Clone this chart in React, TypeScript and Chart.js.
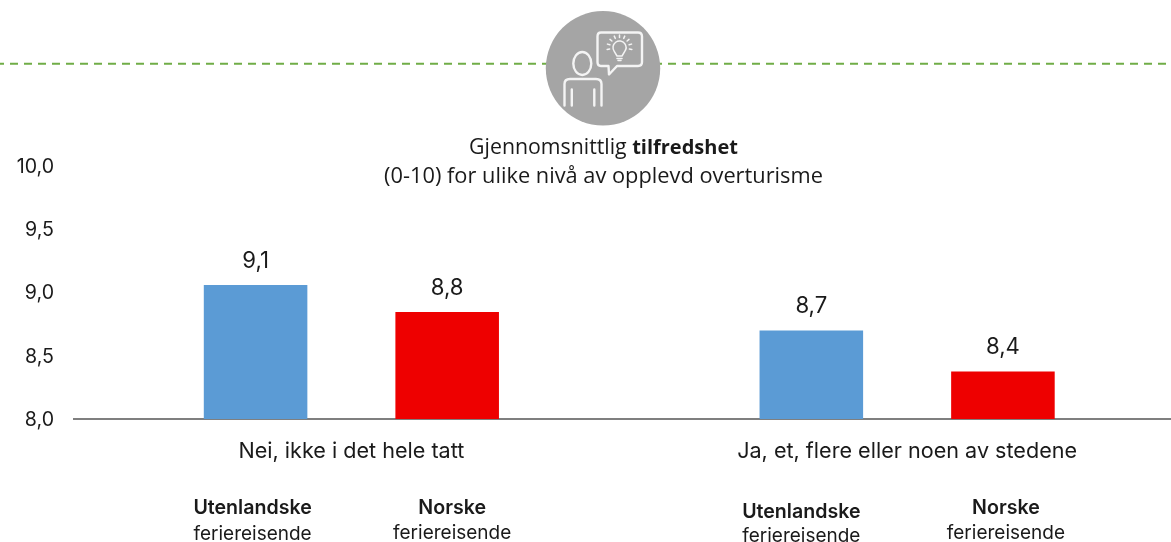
import React, { useEffect, useRef } from "react";
import { Chart, registerables } from "chart.js";

Chart.register(...registerables);

const categories = ["Nei, ikke i det hele tatt", "Ja, et, flere eller noen av stedene"];
const foreignValues = [9.06, 8.70];
const norwegianValues = [8.845, 8.375];
const foreignLabels = ["9,1", "8,7"];
const norwegianLabels = ["8,8", "8,4"];
const seriesNames = ["Utenlandske", "Norske"];
const seriesSub = "feriereisende";
const titleRegular = "Gjennomsnittlig ";
const titleBold = "tilfredshet";
const titleLine2 = "(0-10) for ulike nivå av opplevd overturisme";

const FONT = "Inter, 'Liberation Sans', sans-serif";
const TITLE_FONT = "'Open Sans', 'Liberation Sans', sans-serif";
const TEXT = "#1a1a1a";

const decorPlugin = {
  id: "decor",
  afterDraw(chart: any) {
    const { ctx } = chart;
    ctx.save();
    // dashed line
    ctx.strokeStyle = "#70ad47";
    ctx.lineWidth = 2;
    ctx.setLineDash([8, 6]);
    ctx.lineDashOffset = 4;
    ctx.beginPath();
    ctx.moveTo(0, 63.7);
    ctx.lineTo(1171, 63.7);
    ctx.stroke();
    ctx.setLineDash([]);
    // badge
    ctx.fillStyle = "#a5a5a5";
    ctx.beginPath();
    ctx.arc(603, 68.3, 57.2, 0, Math.PI * 2);
    ctx.fill();
    ctx.strokeStyle = "#f4f4f4";
    ctx.lineWidth = 2.4;
    ctx.lineCap = "round";
    ctx.lineJoin = "round";
    ctx.beginPath();
    ctx.ellipse(582.3, 63.5, 9, 11.5, 0, 0, Math.PI * 2);
    ctx.stroke();
    ctx.beginPath();
    ctx.moveTo(564.5, 105.5);
    ctx.lineTo(564.5, 84);
    ctx.quadraticCurveTo(564.5, 79, 570, 79);
    ctx.lineTo(596, 79);
    ctx.quadraticCurveTo(601.5, 79, 601.5, 84);
    ctx.lineTo(601.5, 105.5);
    ctx.moveTo(571.8, 89.5);
    ctx.lineTo(571.8, 105.5);
    ctx.moveTo(594.3, 89.5);
    ctx.lineTo(594.3, 105.5);
    ctx.stroke();
    ctx.beginPath();
    ctx.moveTo(601, 32.5);
    ctx.lineTo(638, 32.5);
    ctx.quadraticCurveTo(642, 32.5, 642, 36.5);
    ctx.lineTo(642, 62);
    ctx.quadraticCurveTo(642, 66, 638, 66);
    ctx.lineTo(617, 66);
    ctx.lineTo(609, 74.5);
    ctx.lineTo(608.5, 66);
    ctx.lineTo(601, 66);
    ctx.quadraticCurveTo(597.5, 66, 597.5, 62);
    ctx.lineTo(597.5, 36.5);
    ctx.quadraticCurveTo(597.5, 32.5, 601, 32.5);
    ctx.stroke();
    ctx.lineWidth = 1.5;
    ctx.beginPath();
    ctx.arc(619.5, 47.5, 6.5, Math.PI * 0.8, Math.PI * 0.2);
    ctx.lineTo(622, 56);
    ctx.lineTo(617, 56);
    ctx.closePath();
    ctx.moveTo(617, 58.5);
    ctx.lineTo(622, 58.5);
    ctx.moveTo(618, 60.5);
    ctx.lineTo(621, 60.5);
    for (let i = 0; i < 9; i++) {
      const a = Math.PI * (0.95 + (i * 1.1) / 8);
      ctx.moveTo(619.5 + Math.cos(a) * 10, 47.5 + Math.sin(a) * 10);
      ctx.lineTo(619.5 + Math.cos(a) * 12.5, 47.5 + Math.sin(a) * 12.5);
    }
    ctx.stroke();

    // title
    ctx.fillStyle = TEXT;
    ctx.textBaseline = "middle";
    ctx.textAlign = "left";
    const regular = `21.3px ${TITLE_FONT}`;
    const bold = `bold 20px ${TITLE_FONT}`;
    ctx.font = regular;
    const w1 = ctx.measureText(titleRegular).width;
    ctx.font = bold;
    const w2 = ctx.measureText(titleBold).width;
    const sx = 603.5 - (w1 + w2) / 2;
    ctx.font = regular;
    ctx.fillText(titleRegular, sx, 148);
    ctx.font = bold;
    ctx.fillText(titleBold, sx + w1, 148);
    ctx.textAlign = "center";
    ctx.font = `21.8px ${TITLE_FONT}`;
    ctx.fillText(titleLine2, 603.5, 177);

    // value labels and series captions, from the bar elements
    const yOffsets = [
      [[-3, 508, 534.5], [5, 508, 533.5]],
      [[-10, 512, 536.5], [3, 508, 533.5]],
    ];
    [foreignLabels, norwegianLabels].forEach((labels, ds) => {
      const meta = chart.getDatasetMeta(ds);
      labels.forEach((label, i) => {
        const bar = meta.data[i];
        ctx.font = `22.2px ${FONT}`;
        ctx.fillText(label, bar.x, bar.y - 24);
        const [dx, y1, y2] = yOffsets[i][ds];
        ctx.font = `600 19.6px ${FONT}`;
        ctx.fillText(seriesNames[ds], bar.x + dx, y1);
        ctx.font = `19px ${FONT}`;
        ctx.fillText(seriesSub, bar.x + dx, y2);
      });
    });
    ctx.restore();
  },
};

export default function App() {
  const ref = useRef<HTMLCanvasElement | null>(null);
  useEffect(() => {
    const chart = new Chart(ref.current as HTMLCanvasElement, {
      type: "bar",
      data: {
        labels: categories,
        datasets: [
          { label: seriesNames[0], data: foreignValues, backgroundColor: "#5b9bd5" },
          { label: seriesNames[1], data: norwegianValues, backgroundColor: "#ee0000" },
        ],
      },
      options: {
        animation: false,
        responsive: false,
        layout: { padding: { top: 166, left: 0, right: 0, bottom: 0 } },
        datasets: { bar: { categoryPercentage: 0.6895, barPercentage: 0.5405 } },
        plugins: { legend: { display: false }, tooltip: { enabled: false }, title: { display: false } },
        scales: {
          x: {
            afterFit(s: any) { s.height = 123; },
            grid: { display: false, drawTicks: false },
            border: { color: "#7f7f7f", width: 2 },
            ticks: { color: TEXT, font: { family: FONT, size: 21.6 }, padding: 19.5, maxRotation: 0 },
          },
          y: {
            min: 8,
            max: 10,
            afterFit(s: any) { s.width = 73.5; },
            grid: { display: false, drawTicks: false },
            border: { display: false },
            ticks: {
              stepSize: 0.5,
              color: TEXT,
              font: { family: FONT, size: 19.6 },
              padding: 19.5,
              labelOffset: 1,
              callback: (v: any) => Number(v).toFixed(1).replace(".", ","),
            },
          },
        },
      },
      plugins: [decorPlugin],
    } as any);
    return () => chart.destroy();
  }, []);
  return (
    <div style={{ position: "fixed", inset: 0, overflow: "hidden", background: "#fff" }}>
      <canvas ref={ref} width={1185} height={542} style={{ display: "block" }} />
    </div>
  );
}
